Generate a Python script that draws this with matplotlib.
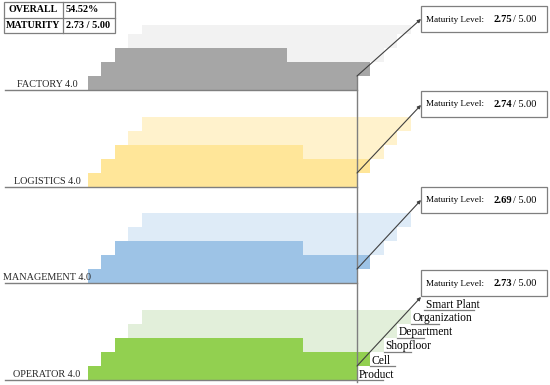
import numpy as np
import matplotlib.pyplot as plt
from matplotlib.patches import Rectangle

plt.rcParams['font.family'] = ['Liberation Serif', 'DejaVu Serif']

# data
panels = ['FACTORY 4.0', 'LOGISTICS 4.0', 'MANAGEMENT 4.0', 'OPERATOR 4.0']
maturity = [2.75, 2.74, 2.69, 2.73]
max_level = 5.00
overall_pct = 54.52
overall_level = 2.73
levels = ['Product', 'Cell', 'Shopfloor', 'Department', 'Organization', 'Smart Plant']
# filled share of each step row (Product .. Organization)
fill_factory = [1, 1, 0.64, 0, 0]
fill_logistics = [1, 1, 0.70, 0, 0]
fill_management = [1, 1, 0.70, 0, 0]
fill_operator = [1, 1, 0.70, 0, 0]
fills = [fill_factory, fill_logistics, fill_management, fill_operator]

dark_colors = ['#a6a6a6', '#ffe699', '#9dc3e6', '#92d050']
light_colors = ['#f2f2f2', '#fff2cc', '#deebf7', '#e2efda']

# layout (pixels)
baselines = [90, 187, 283, 380]
box_tops = [6, 91, 187, 270]
arrow_off = [13, 14, 13, 27]
row_h = 14
step = 13.4
x_left = 88
span = 269
x_axis = 357

fig = plt.figure(figsize=(5.5, 3.85), dpi=100)
ax = fig.add_axes([0, 0, 1, 1])
ax.set_xlim(0, 550)
ax.set_ylim(385, 0)
ax.axis('off')

# picture is cropped at the top of the factory panel
clip = Rectangle((0, 25), 550, 400, transform=ax.transData)

line_col = '#7f7f7f'
for p, name in enumerate(panels):
    base = baselines[p]
    n = len(fills[p])
    tops = base - row_h * (np.arange(n) + 1)
    lefts = x_left + step * np.arange(n)
    light = ax.barh(tops, span, left=lefts, height=row_h, align='edge',
                    color=light_colors[p], linewidth=0, zorder=1)
    dark = ax.barh(tops, span * np.array(fills[p]), left=lefts, height=row_h,
                   align='edge', color=dark_colors[p], linewidth=0, zorder=2)
    for b in list(light) + list(dark):
        b.set_clip_path(clip)

    ax.plot([5, x_axis], [base, base], color=line_col, lw=1, zorder=3)
    ax.text(47, base - 3, name, ha='center', va='baseline', fontsize=7.3,
            color='#262626', zorder=4)

    # maturity box
    top = box_tops[p]
    ax.add_patch(Rectangle((421, top), 126, 26, facecolor='white',
                           edgecolor=line_col, lw=0.9, zorder=4))
    ym = top + 13.5
    ax.text(426, ym, 'Maturity Level:', va='center', fontsize=6.6, zorder=5)
    ax.text(493, ym, '%.2f' % maturity[p], va='center', fontsize=7.6,
            fontweight='bold', zorder=5)
    ax.text(513, ym, '/ %.2f' % max_level, va='center', fontsize=7.4, zorder=5)
    ax.annotate('', xy=(421, top + arrow_off[p]), xytext=(x_axis, base - row_h),
                arrowprops=dict(arrowstyle='-|>', color='#404040', lw=0.8,
                                mutation_scale=5, shrinkA=0, shrinkB=0),
                zorder=5)

ax.plot([x_axis, x_axis], [76, 382], color=line_col, lw=1, zorder=3)

# level labels on the operator panel
ul_len = [26, 25, 27, 27, 28, 50]
base = baselines[-1]
for i, lv in enumerate(levels):
    x = x_axis + step * i
    y = base - row_h * i
    ax.plot([x, x + ul_len[i]], [y, y], color=line_col, lw=0.9, zorder=3)
    ax.text(x + 1.5, y - 2.5, lv, va='baseline', fontsize=8.3, zorder=5)

# overall table
ax.add_patch(Rectangle((4, 2), 111, 31, facecolor='white', edgecolor=line_col,
                       lw=0.9, zorder=4))
ax.plot([63, 63], [2, 33], color=line_col, lw=0.9, zorder=5)
ax.plot([4, 115], [17.5, 17.5], color=line_col, lw=0.9, zorder=5)
ax.text(33.5, 10, 'OVERALL', ha='center', va='center', fontsize=7.2,
        fontweight='bold', zorder=6)
ax.text(33.5, 25.5, 'MATURITY', ha='center', va='center', fontsize=7.2,
        fontweight='bold', zorder=6)
ax.text(66, 10, '%.2f%%' % overall_pct, va='center', fontsize=7.4,
        fontweight='bold', zorder=6)
ax.text(66, 25.5, '%.2f / %.2f' % (overall_level, max_level), va='center',
        fontsize=7.4, fontweight='bold', zorder=6)

fig.savefig('out.png', dpi=100)
